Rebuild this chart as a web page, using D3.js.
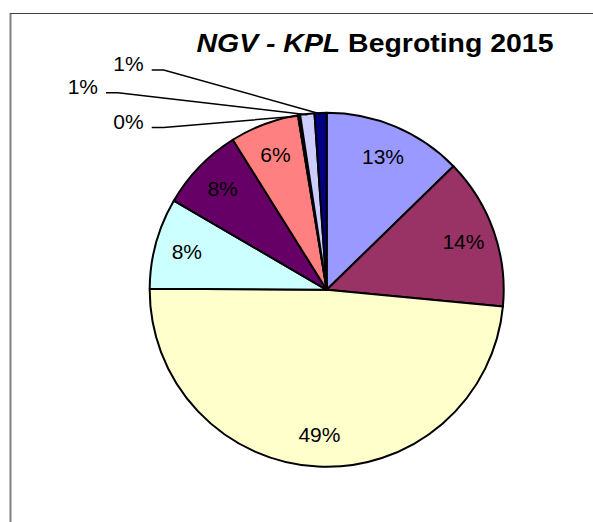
<!DOCTYPE html>
<html>
<head>
<meta charset="utf-8">
<script src="https://cdn.jsdelivr.net/npm/d3@7.9.0/dist/d3.min.js"></script>
<style>
  body { margin: 0; background: #fff; }
  svg { display: block; font-family: "Liberation Sans", Arial, sans-serif; }
</style>
</head>
<body>
<svg width="593" height="522"></svg>
<script>
// slice values (percent of budget), clockwise from 12 o'clock
const posts = ['A', 'B', 'C', 'D', 'E', 'F', 'G', 'H', 'I'];
const shares = [12.7, 13.8, 48.6, 8.3, 7.7, 6.3, 0.2, 1.3, 1.1];
const sliceColors = ['#9999FF', '#993366', '#FFFFCC', '#CCFFFF', '#660066', '#FF8080', '#0066CC', '#CCCCFF', '#000080'];

const W = 593, H = 522;
const cx = 326.7, cy = 289.8, R = 177;

const svg = d3.select('svg');

// chart frame (left + top edges visible)
svg.append('line').attr('x1', 10.5).attr('y1', 13).attr('x2', 10.5).attr('y2', H)
  .attr('stroke', '#808080').attr('stroke-width', 2);
svg.append('line').attr('x1', 10).attr('y1', 13.5).attr('x2', W).attr('y2', 13.5)
  .attr('stroke', '#404040').attr('stroke-width', 1);

// title
const title = svg.append('text')
  .attr('x', 196.5).attr('y', 51.7)
  .attr('font-size', 26).attr('font-weight', 'bold')
  .attr('textLength', 357).attr('lengthAdjust', 'spacingAndGlyphs');
title.append('tspan').attr('font-style', 'italic').text('NGV - KPL');
title.append('tspan').text(' Begroting 2015');

const data = posts.map((p, i) => ({ post: p, value: shares[i], color: sliceColors[i] }));
const total = d3.sum(shares);
const fmt = d3.format('.0%');

const pie = d3.pie().sort(null).value(d => d.value);
const arcs = pie(data);
const arc = d3.arc().innerRadius(0).outerRadius(R);
const labelArc = d3.arc().innerRadius(145).outerRadius(145);

const g = svg.append('g').attr('transform', `translate(${cx},${cy})`);

g.selectAll('path')
  .data(arcs)
  .join('path')
  .attr('d', arc)
  .attr('fill', d => d.data.color)
  .attr('stroke', '#000')
  .attr('stroke-width', 2)
  .attr('stroke-linejoin', 'round');

// labels inside for the big slices
g.selectAll('text.inside')
  .data(arcs.filter(d => d.data.value >= 2))
  .join('text')
  .attr('class', 'inside')
  .attr('transform', d => `translate(${labelArc.centroid(d)})`)
  .attr('text-anchor', 'middle')
  .attr('dy', '0.36em')
  .attr('font-size', 21)
  .text(d => fmt(d.data.value / total));

// small slices get callouts on the upper left
const slots = [[-175, -162.3], [-220.7, -197.1], [-175, -219.8]];
const small = arcs.filter(d => d.data.value < 2);
small.forEach((d, k) => {
  const [sx, sy] = slots[k];
  const mid = (d.startAngle + d.endAngle) / 2;
  const ex = Math.sin(mid) * (R - 1), ey = -Math.cos(mid) * (R - 1);
  g.append('polyline')
    .attr('points', [[sx, sy], [sx + 12, sy], [ex, ey]].map(p => p.join(',')).join(' '))
    .attr('fill', 'none')
    .attr('stroke', '#000')
    .attr('stroke-width', 1.5);
  g.append('text')
    .attr('x', sx - 8).attr('y', sy + 1)
    .attr('text-anchor', 'end')
    .attr('font-size', 21)
    .text(fmt(d.data.value / total));
});
</script>
</body>
</html>
